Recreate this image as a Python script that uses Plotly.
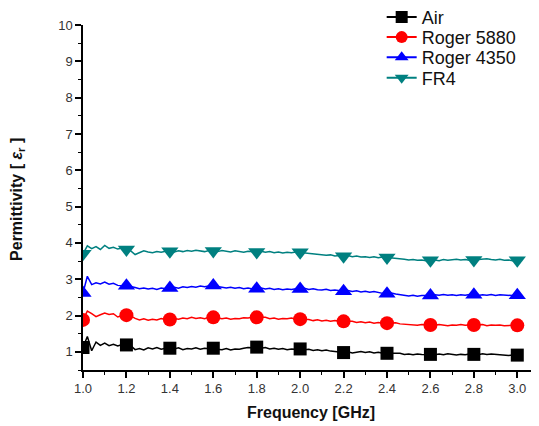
import plotly.graph_objects as go

# Frequency grid (GHz)
freq = [round(1.0 + 0.02 * i, 2) for i in range(101)]

air = [
    1.12, 1.42, 1.03, 1.27, 1.18, 1.24, 1.17, 1.21, 1.16, 1.20,
    1.19, 1.17, 1.06, 1.09, 1.05, 1.11, 1.08, 1.12, 1.07, 1.10,
    1.10, 1.08, 1.11, 1.06, 1.09, 1.08, 1.11, 1.07, 1.10, 1.09,
    1.10, 1.08, 1.06, 1.09, 1.05, 1.08, 1.07, 1.10, 1.12, 1.11,
    1.13, 1.10, 1.12, 1.08, 1.10, 1.07, 1.09, 1.06, 1.08, 1.07,
    1.08, 1.06, 1.07, 1.04, 1.06, 1.03, 1.05, 1.02, 1.00, 0.99,
    0.98, 1.00, 0.97, 0.99, 1.01, 0.98, 1.00, 0.97, 0.99, 0.96,
    0.96, 0.97, 0.95, 0.96, 0.93, 0.94, 0.92, 0.94, 0.93, 0.92,
    0.93, 0.92, 0.94, 0.92, 0.95, 0.93, 0.91, 0.93, 0.92, 0.94,
    0.93, 0.92, 0.95, 0.93, 0.94, 0.93, 0.91, 0.92, 0.90, 0.91,
    0.91,
]
roger5880 = [
    1.88, 2.12, 2.05, 1.97, 2.02, 2.07, 2.03, 2.05, 1.96, 2.00,
    2.01, 1.99, 1.92, 1.88, 1.91, 1.87, 1.90, 1.88, 1.92, 1.89,
    1.89, 1.92, 1.90, 1.93, 1.91, 1.95, 1.92, 1.94, 1.91, 1.95,
    1.95, 1.93, 1.91, 1.93, 1.90, 1.92, 1.91, 1.94, 1.93, 1.95,
    1.95, 1.93, 1.95, 1.91, 1.93, 1.90, 1.92, 1.91, 1.93, 1.90,
    1.90, 1.88, 1.89, 1.86, 1.88, 1.85, 1.87, 1.84, 1.86, 1.84,
    1.84, 1.82, 1.84, 1.81, 1.83, 1.80, 1.82, 1.79, 1.81, 1.79,
    1.79, 1.78, 1.80, 1.77, 1.76, 1.74, 1.75, 1.73, 1.75, 1.74,
    1.74, 1.73, 1.75, 1.74, 1.72, 1.74, 1.73, 1.75, 1.73, 1.74,
    1.74, 1.73, 1.75, 1.72, 1.74, 1.73, 1.74, 1.72, 1.73, 1.72,
    1.73,
]
roger4350 = [
    2.62, 3.08, 2.85, 2.90, 2.87, 2.92, 2.86, 2.89, 2.83, 2.82,
    2.82, 2.80, 2.77, 2.74, 2.76, 2.73, 2.75, 2.72, 2.76, 2.74,
    2.76, 2.78, 2.75, 2.79, 2.77, 2.80, 2.78, 2.81, 2.79, 2.82,
    2.83, 2.80, 2.78, 2.76, 2.78, 2.75, 2.77, 2.74, 2.76, 2.73,
    2.74, 2.76, 2.73, 2.75, 2.72, 2.74, 2.71, 2.73, 2.72, 2.74,
    2.73, 2.75, 2.72, 2.74, 2.71, 2.70, 2.72, 2.69, 2.70, 2.68,
    2.67, 2.69, 2.66, 2.68, 2.65, 2.67, 2.64, 2.66, 2.63, 2.61,
    2.60, 2.62, 2.59, 2.57, 2.55, 2.54, 2.56, 2.53, 2.55, 2.54,
    2.55, 2.57, 2.56, 2.58, 2.56, 2.57, 2.55, 2.57, 2.56, 2.58,
    2.57, 2.55, 2.57, 2.56, 2.58, 2.55, 2.57, 2.56, 2.54, 2.55,
    2.56,
]
fr4 = [
    3.70, 3.92, 3.84, 3.90, 3.82, 3.93, 3.85, 3.88, 3.83, 3.86,
    3.82, 3.78, 3.68, 3.74, 3.78, 3.75, 3.73, 3.76, 3.74, 3.77,
    3.77, 3.75, 3.78, 3.76, 3.79, 3.77, 3.80, 3.78, 3.76, 3.79,
    3.78, 3.76, 3.79, 3.77, 3.75, 3.78, 3.76, 3.74, 3.77, 3.75,
    3.75, 3.77, 3.74, 3.76, 3.73, 3.75, 3.72, 3.74, 3.73, 3.75,
    3.74, 3.72, 3.70, 3.71, 3.68, 3.69, 3.66, 3.67, 3.64, 3.65,
    3.63, 3.65, 3.62, 3.64, 3.61, 3.62, 3.60, 3.62, 3.59, 3.61,
    3.60, 3.58, 3.59, 3.56, 3.55, 3.53, 3.54, 3.52, 3.53, 3.51,
    3.52, 3.53, 3.51, 3.54, 3.52, 3.53, 3.55, 3.53, 3.54, 3.52,
    3.53, 3.55, 3.54, 3.56, 3.54, 3.53, 3.55, 3.52, 3.53, 3.51,
    3.52,
]

names = ["Air", "Roger 5880", "Roger 4350", "FR4"]
series = [air, roger5880, roger4350, fr4]
colors = ["#000000", "#FF0000", "#0000FF", "#008080"]
symbols = ["square", "circle", "triangle-up", "triangle-down"]
sizes = [13, 14, 15, 15]
marker_step = 10  # a marker every 0.2 GHz

legend_ids = ["legend", "legend2", "legend3", "legend4"]
legend_y = [1.022, 0.964, 0.906, 0.846]

fig = go.Figure()
for name, ys, c, sym, sz in zip(names, series, colors, symbols, sizes):
    fig.add_trace(go.Scatter(x=freq, y=ys, mode="lines",
                             line=dict(color=c, width=1.5),
                             showlegend=False, hoverinfo="skip"))
    fig.add_trace(go.Scatter(x=freq[::marker_step], y=ys[::marker_step], mode="markers",
                             marker=dict(color=c, symbol=sym, size=sz),
                             showlegend=False))
# legend entries
for name, c, sym, lid in zip(names, colors, symbols, legend_ids):
    fig.add_trace(go.Scatter(x=[None], y=[None], mode="lines+markers", name=name,
                             line=dict(color=c, width=2),
                             marker=dict(color=c, symbol=sym, size=12),
                             legend=lid))

axis_font = dict(family="Liberation Sans, Arial, sans-serif", size=13, color="#333333")
leg_common = dict(x=0.655, xanchor="left", yanchor="middle",
                  font=dict(size=18, color="#111111"),
                  bgcolor="rgba(0,0,0,0)", borderwidth=0)
layout_legends = {lid: dict(y=ly, **leg_common) for lid, ly in zip(legend_ids, legend_y)}

# the page body adds an 8px margin, so the figure is sized 8px smaller
fig.update_layout(
    width=531, height=418,
    margin=dict(l=75, r=0, t=17, b=56, autoexpand=False),
    paper_bgcolor="white", plot_bgcolor="white",
    font=dict(family="Liberation Sans, Arial, sans-serif", color="#111111"),
    xaxis=dict(
        range=[1.0, 3.1], tick0=1.0, dtick=0.2, tickformat=".1f",
        showgrid=False, zeroline=False, showline=True, linecolor="black", linewidth=1.5,
        ticks="outside", ticklen=6, tickwidth=1.5, tickcolor="black",
        tickfont=axis_font,
        minor=dict(dtick=0.1, ticks="outside", ticklen=3, tickwidth=1.2, tickcolor="black"),
    ),
    yaxis=dict(
        range=[0.5, 10], tick0=0, dtick=1,
        showgrid=False, zeroline=False, showline=True, linecolor="black", linewidth=1.5,
        ticks="outside", ticklen=6, tickwidth=1.5, tickcolor="black",
        tickfont=axis_font,
        minor=dict(dtick=0.5, ticks="outside", ticklen=3, tickwidth=1.2, tickcolor="black"),
    ),
    annotations=[
        dict(text="<b>Frequency [GHz]</b>", xref="paper", yref="paper",
             x=0.5, y=-0.122, xanchor="center", yanchor="middle", showarrow=False,
             font=dict(size=16, color="#111111")),
        dict(text="<b>Permittivity [ <i>ε</i><sub>r</sub> ]</b>", xref="paper", yref="paper",
             x=-0.1425, y=0.493, xanchor="center", yanchor="middle", showarrow=False,
             textangle=-90, font=dict(size=16, color="#111111")),
    ],
    **layout_legends,
)

fig.write_html("out.html")
